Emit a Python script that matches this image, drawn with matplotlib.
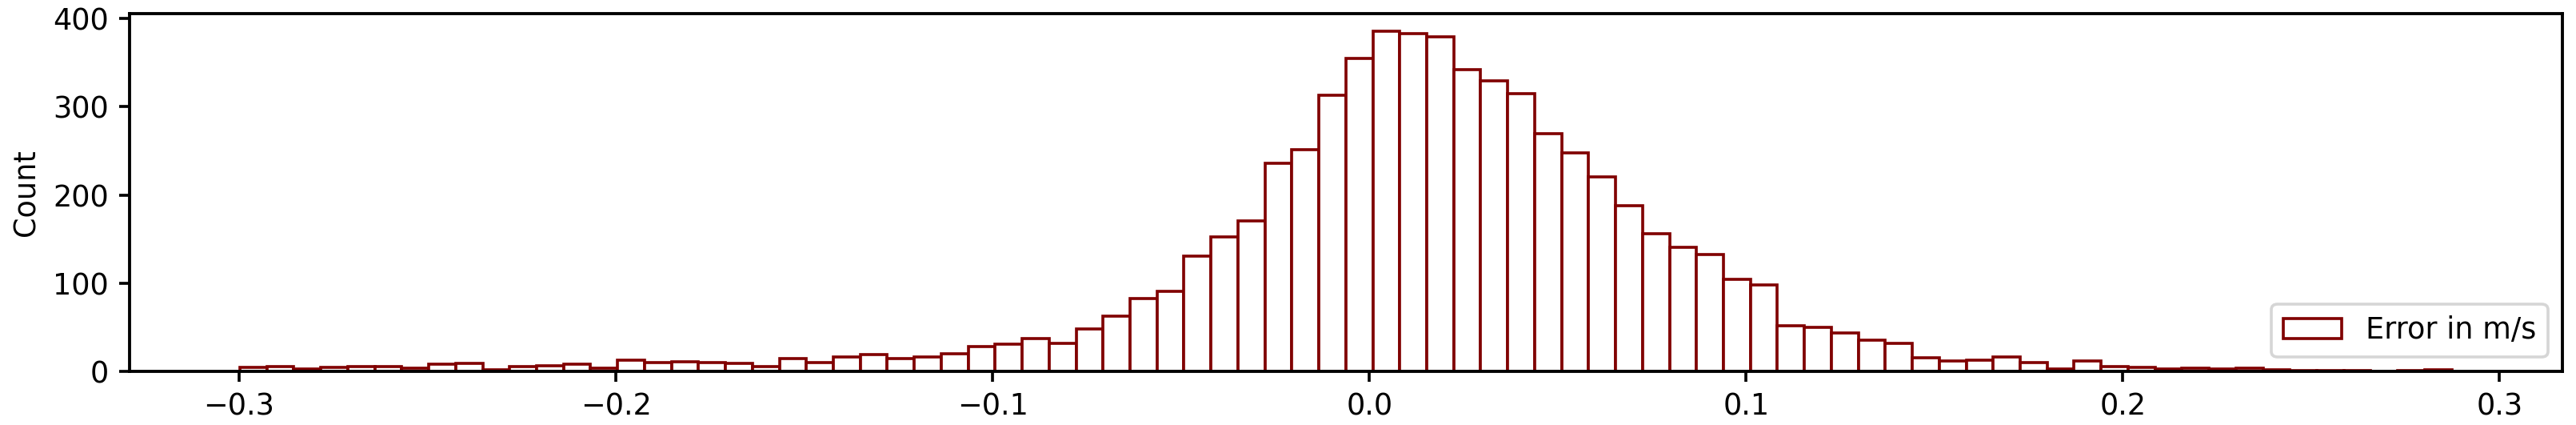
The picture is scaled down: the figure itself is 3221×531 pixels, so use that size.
import numpy as np
import matplotlib
matplotlib.use("Agg")
import matplotlib.pyplot as plt

# histogram counts, 82 equal bins
counts = [5, 6, 3, 5, 6, 6, 4, 8, 9, 2, 6, 7, 8,
          4, 13, 10, 11, 10, 9, 6, 15, 10, 17, 19, 15, 17, 20, 28, 31, 37, 32,
          48, 63, 83, 91, 131, 153, 171, 236, 251, 313, 355, 386, 383, 379, 342, 329, 315, 270, 248,
          221, 188, 156, 141, 133, 105, 98, 52, 50, 44, 36, 32, 16, 12, 13, 17, 10,
          3, 12, 6, 5, 3, 4, 3, 4, 2, 1, 1, 1, 0, 1, 2]
err_min = -0.2998
err_max = 0.2873
label = 'Error in m/s'

edges = np.linspace(err_min, err_max, len(counts) + 1)
centers = 0.5 * (edges[:-1] + edges[1:])

dpi = 264
fig = plt.figure(figsize=(3221 / dpi, 531 / dpi), dpi=dpi)
ax = fig.add_axes([0.0502, 0.1256, 0.9445, 0.8418])

ax.hist(centers, bins=edges, weights=counts, color='white',
        edgecolor='maroon', linewidth=1.0, label=label)
ax.set_ylabel('Count')
ax.set_yticks([0, 100, 200, 300, 400])
for sp in ax.spines.values():
    sp.set_linewidth(1.05)
ax.tick_params(width=1.0)
ax.legend(loc='lower right')

fig.savefig('out.png', dpi=dpi)
